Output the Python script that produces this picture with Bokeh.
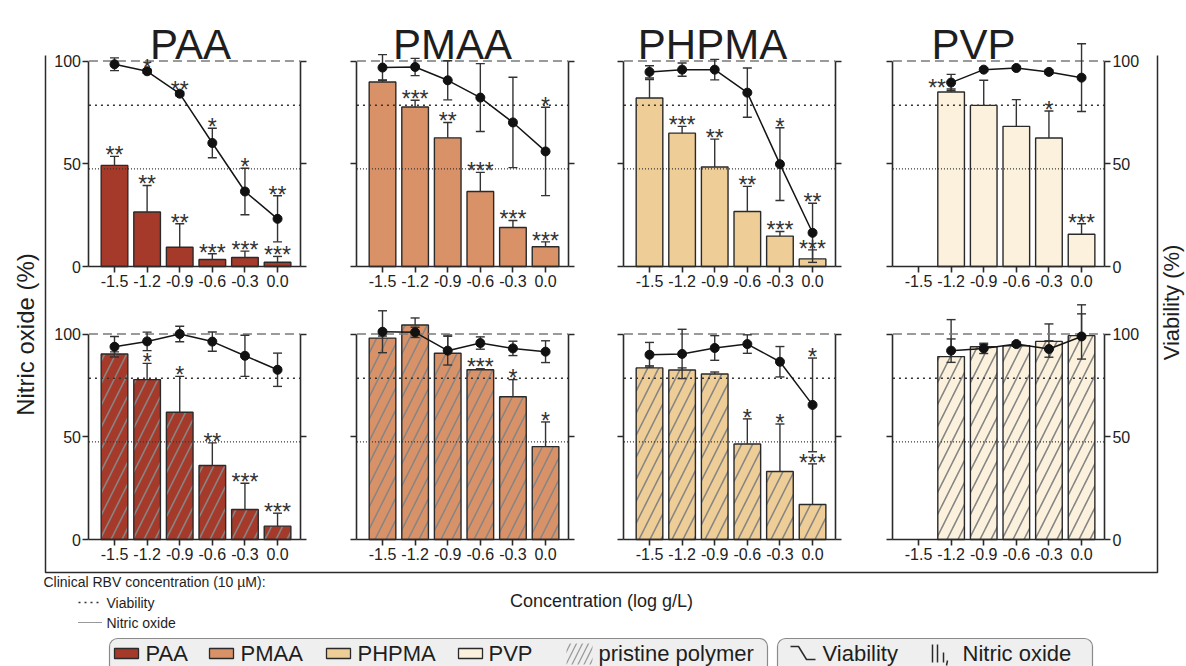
import math
from bokeh.plotting import figure
from bokeh.models import Range1d, LinearAxis, FixedTicker, PrintfTickFormatter, ColumnDataSource
from bokeh.core.properties import value
from bokeh.embed import file_html
from bokeh.resources import INLINE

nan = float("nan")

# ----------------------------------------------------------------- data
concentrations = [-1.5, -1.2, -0.9, -0.6, -0.3, 0.0]
polymers = ["PAA", "PMAA", "PHPMA", "PVP"]
polymer_colors = ["#A53A2A", "#D99268", "#EECE96", "#FBF1DD"]
y_ticks = [0, 50, 100]
control_level = 100
clinical_viability = 78.5
clinical_nitric_oxide = 47.5

# top row: RBV conjugates
conj_no = {
    "PAA":   [49.2, 26.5, 9.4, 3.4, 4.4, 2.1],
    "PMAA":  [89.8, 77.6, 62.6, 36.5, 19.0, 9.6],
    "PHPMA": [82.0, 64.9, 48.4, 26.8, 14.8, 3.7],
    "PVP":   [nan, 84.9, 78.4, 68.2, 62.5, 15.7],
}
conj_no_err = {
    "PAA":   [4.4, 12.9, 11.4, 2.8, 3.1, 2.8],
    "PMAA":  [1.0, 3.3, 7.5, 9.3, 3.4, 2.4],
    "PHPMA": [9.0, 3.3, 13.6, 12.2, 2.2, 4.4],
    "PVP":   [nan, 1.5, 12.2, 13.0, 13.2, 5.1],
}
conj_via = {
    "PAA":   [98.4, 95.0, 84.1, 60.1, 36.5, 23.2],
    "PMAA":  [96.8, 97.1, 90.6, 82.2, 70.1, 56.0],
    "PHPMA": [94.7, 95.8, 95.8, 84.6, 49.8, 16.4],
    "PVP":   [nan, 89.5, 95.8, 96.6, 94.7, 91.9],
}
conj_via_err = {
    "PAA":   [3.1, 1.0, 1.0, 7.2, 11.3, 11.2],
    "PMAA":  [6.3, 4.2, 9.5, 16.5, 22.0, 21.5],
    "PHPMA": [3.0, 3.2, 5.0, 12.0, 17.7, 14.4],
    "PVP":   [nan, 4.0, 0.8, 0.8, 1.0, 16.5],
}
conj_no_sig = {
    "PAA":   ["**", "**", "**", "***", "***", "***"],
    "PMAA":  ["", "***", "**", "***", "***", "***"],
    "PHPMA": ["", "***", "**", "**", "***", "***"],
    "PVP":   ["", "**", "", "", "*", "***"],
}
conj_via_sig = {
    "PAA":   ["", "*", "**", "*", "*", "**"],
    "PMAA":  ["", "", "", "", "", "*"],
    "PHPMA": ["", "", "", "", "*", "**"],
    "PVP":   ["", "", "", "", "", ""],
}

# bottom row: pristine polymers
pris_no = {
    "PAA":   [90.3, 77.8, 61.9, 36.0, 14.6, 6.5],
    "PMAA":  [98.0, 104.4, 90.6, 82.6, 69.5, 45.2],
    "PHPMA": [83.5, 82.5, 80.5, 46.5, 33.1, 17.0],
    "PVP":   [nan, 89.0, 93.8, 94.3, 96.4, 99.2],
}
pris_no_err = {
    "PAA":   [1.0, 7.9, 17.5, 11.0, 12.8, 6.3],
    "PMAA":  [1.0, 3.4, 8.9, 0.5, 8.3, 12.0],
    "PHPMA": [1.0, 1.0, 1.0, 12.2, 23.1, 19.8],
    "PVP":   [nan, 18.0, 1.0, 1.0, 8.5, 15.0],
}
pris_via = {
    "PAA":   [93.8, 96.4, 100.0, 96.3, 89.4, 82.6],
    "PMAA":  [101.1, 100.8, 91.9, 95.6, 93.0, 91.4],
    "PHPMA": [89.9, 90.3, 93.2, 95.1, 86.5, 65.5],
    "PVP":   [nan, 91.9, 93.0, 95.1, 92.7, 98.8],
}
pris_via_err = {
    "PAA":   [5.0, 4.5, 3.8, 4.7, 10.0, 8.1],
    "PMAA":  [10.2, 2.5, 7.0, 3.0, 3.5, 5.3],
    "PHPMA": [6.0, 12.0, 6.0, 4.5, 7.4, 22.8],
    "PVP":   [nan, 5.7, 2.5, 1.0, 4.0, 11.0],
}
pris_no_sig = {
    "PAA":   ["", "*", "*", "**", "***", "***"],
    "PMAA":  ["", "", "", "***", "*", "*"],
    "PHPMA": ["", "", "", "*", "*", "***"],
    "PVP":   ["", "", "", "", "", ""],
}
pris_via_sig = {
    "PAA":   ["", "", "", "", "", ""],
    "PMAA":  ["", "", "", "", "", ""],
    "PHPMA": ["", "", "", "", "", "*"],
    "PVP":   ["", "", "", "", "", ""],
}

legend_labels = ["PAA", "PMAA", "PHPMA", "PVP"]

# ----------------------------------------------------------------- layout
W, H = 1186, 666
FONT = "Liberation Sans"
INK = "#2a2a2a"
X_ORIGIN = [114, 382, 649, 918]       # screen x of the first concentration
Y_ZERO = [266, 539]                   # screen y of 0 %
PX_PER_LOG = 108.7
PX_PER_PCT = 2.055
BAR_W = 0.245
X_LO = concentrations[0] - 0.235
X_HI = concentrations[-1] + 0.21
STAR_NUDGE = {(0, "PVP", 1): -14}

p = figure(width=W, height=H, x_range=Range1d(0, W), y_range=Range1d(H, 0),
           output_backend="svg", toolbar_location=None,
           x_axis_location=None, y_axis_location=None, min_border=0,
           title=None, outline_line_color=None,
           background_fill_color="white", border_fill_color="white")
p.grid.visible = False

xr, yr = {}, {}
for r in range(2):
    for c in range(4):
        xr[f"x{r}{c}"] = Range1d(concentrations[0] - X_ORIGIN[c] / PX_PER_LOG,
                                 concentrations[0] + (W - X_ORIGIN[c]) / PX_PER_LOG)
        yr[f"y{r}{c}"] = Range1d((Y_ZERO[r] - H) / PX_PER_PCT, Y_ZERO[r] / PX_PER_PCT)
p.extra_x_ranges = xr
p.extra_y_ranges = yr


def style_axis(ax, show_labels):
    ax.axis_line_color = INK
    ax.axis_line_width = 1.6
    ax.major_tick_line_color = INK
    ax.major_tick_line_width = 1.6
    ax.major_tick_out = 6
    ax.major_tick_in = 0
    ax.minor_tick_line_color = None
    ax.major_label_text_font = FONT
    ax.major_label_text_font_size = "16px"
    ax.major_label_text_color = "#222222" if show_labels else None
    ax.major_label_standoff = 2


rows = [
    (conj_no, conj_no_err, conj_via, conj_via_err, conj_no_sig, conj_via_sig),
    (pris_no, pris_no_err, pris_via, pris_via_err, pris_no_sig, pris_via_sig),
]

for r, (d_no, d_no_err, d_via, d_via_err, d_no_sig, d_via_sig) in enumerate(rows):
    for c, poly in enumerate(polymers):
        rk = dict(x_range_name=f"x{r}{c}", y_range_name=f"y{r}{c}")
        no = d_no[poly]
        no_top = [v + e for v, e in zip(no, d_no_err[poly])]
        via = d_via[poly]
        via_lo = [v - e for v, e in zip(via, d_via_err[poly])]
        via_hi = [v + e for v, e in zip(via, d_via_err[poly])]
        dx = [STAR_NUDGE.get((r, poly, i), 0) for i in range(len(concentrations))]
        src = ColumnDataSource(dict(
            x=concentrations, no=no, no_top=no_top, via=via, via_lo=via_lo, via_hi=via_hi,
            no_sig=d_no_sig[poly], via_sig=d_via_sig[poly],
            no_sig_y=[t + 0.6 for t in no_top], via_sig_y=[t + 0.6 for t in via_hi], dx=dx))

        bar_kw = dict(fill_color=polymer_colors[c], line_color=INK, line_width=1.4)
        if r == 1:
            bar_kw.update(hatch_pattern="/", hatch_color="#858585", hatch_alpha=1.0,
                          hatch_scale=22, hatch_weight=1.6)
        p.vbar(x="x", top="no", bottom=0, width=BAR_W, source=src, **rk, **bar_kw)

        # NO error bars (upper)
        p.segment(x0="x", y0="no", x1="x", y1="no_top", line_color="#333333",
                  line_width=1.4, source=src, **rk)
        p.scatter(x="x", y="no_top", marker="dash", size=9, line_color="#333333",
                  line_width=1.4, source=src, **rk)

        # reference lines
        p.segment(x0=[X_LO], x1=[X_HI], y0=[control_level], y1=[control_level],
                  line_color="#7a7a7a", line_width=1.6, line_dash="9 5", **rk)
        p.segment(x0=[X_LO], x1=[X_HI], y0=[clinical_viability], y1=[clinical_viability],
                  line_color="#333333", line_width=1.5, line_dash="2 4", **rk)
        p.segment(x0=[X_LO], x1=[X_HI], y0=[clinical_nitric_oxide], y1=[clinical_nitric_oxide],
                  line_color="#333333", line_width=1.4, line_dash="1 2", **rk)

        # viability
        p.segment(x0="x", y0="via_lo", x1="x", y1="via_hi", line_color="#333333",
                  line_width=1.4, source=src, **rk)
        p.scatter(x="x", y="via_lo", marker="dash", size=9, line_color="#333333",
                  line_width=1.4, source=src, **rk)
        p.scatter(x="x", y="via_hi", marker="dash", size=9, line_color="#333333",
                  line_width=1.4, source=src, **rk)
        p.line(x="x", y="via", line_color="#151515", line_width=1.5, source=src, **rk)
        p.scatter(x="x", y="via", marker="circle", size=9, fill_color="#111111",
                  line_color="#111111", source=src, **rk)

        # significance stars
        for ycol, tcol in (("no_sig_y", "no_sig"), ("via_sig_y", "via_sig")):
            p.text(x="x", y=ycol, text=tcol, x_offset="dx", text_align="center",
                   text_baseline="middle", text_font=value(FONT), text_font_size="23px",
                   text_color="#333333", source=src, **rk)

        # axes
        xa = LinearAxis(fixed_location=0, bounds=(X_LO, X_HI),
                        ticker=FixedTicker(ticks=concentrations, minor_ticks=[]),
                        formatter=PrintfTickFormatter(format="%.1f"), **rk)
        style_axis(xa, True)
        p.add_layout(xa, "below")
        ya = LinearAxis(fixed_location=X_LO, bounds=(0, 100),
                        ticker=FixedTicker(ticks=y_ticks, minor_ticks=[]), **rk)
        style_axis(ya, c == 0)
        p.add_layout(ya, "left")
        yb = LinearAxis(fixed_location=X_HI, bounds=(0, 100),
                        ticker=FixedTicker(ticks=y_ticks, minor_ticks=[]), **rk)
        style_axis(yb, c == 3)
        p.add_layout(yb, "right")

# ----------------------------------------------------------------- decorations (screen space)
TXT = dict(text_font=value(FONT), text_color="#1e1e1e")

p.text(x=[190, 452, 712, 973], y=[44] * 4, text=polymers, text_align="center",
       text_baseline="alphabetic", text_font_size="42px", **TXT)

# outer frame
p.line(x=[45, 45, 1157, 1157], y=[55, 572, 572, 55], line_color=INK, line_width=1.5)

p.text(x=[25], y=[334], text=["Nitric oxide (%)"], angle=math.pi / 2, text_align="center",
       text_baseline="middle", text_font_size="24px", **TXT)
p.text(x=[1171], y=[302], text=["Viability (%)"], angle=math.pi / 2, text_align="center",
       text_baseline="middle", text_font_size="22px", **TXT)
p.text(x=[601], y=[600], text=["Concentration (log g/L)"], text_align="center",
       text_baseline="middle", text_font_size="18px", **TXT)

p.text(x=[43], y=[581], text=["Clinical RBV concentration (10 µM):"], text_align="left",
       text_baseline="middle", text_font_size="14px", **TXT)
p.text(x=[106, 106], y=[602, 622], text=["Viability", "Nitric oxide"], text_align="left",
       text_baseline="middle", text_font_size="14px", **TXT)
p.segment(x0=[78], x1=[99], y0=[602], y1=[602], line_color="#333333", line_width=1.5,
          line_dash="2 4")
p.segment(x0=[78], x1=[101], y0=[622], y1=[622], line_color="#333333", line_width=1.0,
          line_dash="1 1")

# bottom legend boxes
p.quad(left=[109, 777], right=[767, 1092], top=[638, 638], bottom=[680, 680],
       fill_color="#EFEFEF", line_color="#8a8a8a", line_width=1.2, border_radius=8)
sw_left = [114, 209, 326, 458]
p.quad(left=sw_left, right=[v + 24 for v in sw_left], top=[648] * 4, bottom=[658] * 4,
       fill_color=polymer_colors, line_color=INK, line_width=1.3)
p.text(x=[145, 240, 357, 488, 598], y=[653] * 5,
       text=legend_labels + ["pristine polymer"], text_align="left",
       text_baseline="middle", text_font_size="22px", **TXT)
p.quad(left=[566], right=[592], top=[643], bottom=[664], fill_color=None, line_color=None,
       hatch_pattern="/", hatch_color="#9a9a9a", hatch_scale=12, hatch_weight=1.3)
p.line(x=[790, 798, 806, 815], y=[646, 646, 659, 659], line_color=INK, line_width=1.5)
p.text(x=[822, 962], y=[653, 653], text=["Viability", "Nitric oxide"], text_align="left",
       text_baseline="middle", text_font_size="22px", **TXT)
p.segment(x0=[932, 937, 943, 947], x1=[932, 937, 943, 946], y0=[644, 644, 652, 660],
          y1=[662, 662, 662, 665], line_color=INK, line_width=1.5)

open("out.html", "w").write(file_html(p, INLINE, title="RBV conjugates"))
